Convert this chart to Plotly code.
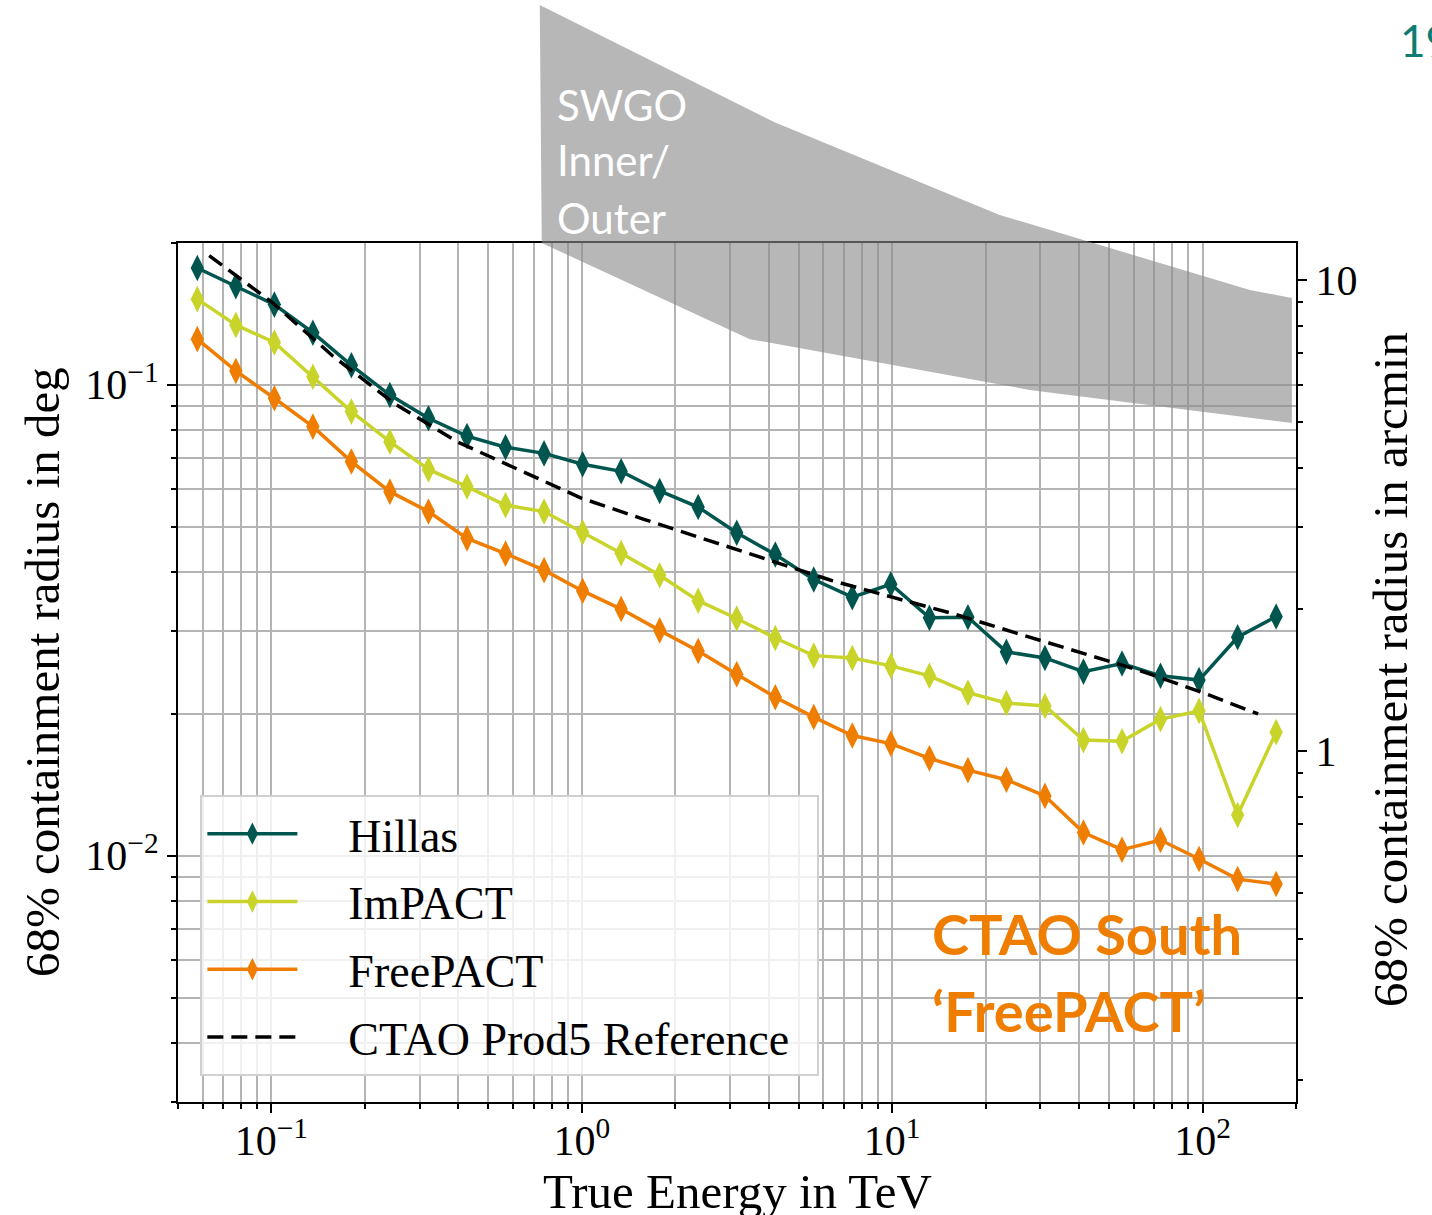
import math
import plotly.graph_objects as go

# ---------------- data ----------------
energy_tev = [0.0577, 0.0768, 0.1022, 0.1360, 0.1810, 0.2408, 0.3206, 0.4267, 0.5678,
              0.7557, 1.006, 1.339, 1.782, 2.371, 3.156, 4.201, 5.589, 7.438, 9.899,
              13.18, 17.54, 23.33, 31.06, 41.33, 55.02, 73.19, 97.43, 129.7, 172.6]

hillas_deg = [0.177, 0.162, 0.148, 0.129, 0.110, 0.0951, 0.0849, 0.0778, 0.0737, 0.0715,
              0.0678, 0.0655, 0.0595, 0.0550, 0.0485, 0.0436, 0.0386, 0.0354, 0.0377,
              0.0320, 0.0321, 0.0271, 0.0263, 0.0246, 0.0256, 0.0241, 0.0236, 0.0291, 0.0322]

impact_deg = [0.152, 0.134, 0.123, 0.104, 0.0877, 0.0757, 0.0661, 0.0608, 0.0555, 0.0538,
              0.0486, 0.0439, 0.0394, 0.0348, 0.0319, 0.0290, 0.0266, 0.0263, 0.0253,
              0.0241, 0.0222, 0.0211, 0.0208, 0.0176, 0.0175, 0.0195, 0.0203, 0.0122, 0.0183]

freepact_deg = [0.125, 0.107, 0.0936, 0.0815, 0.0687, 0.0593, 0.0538, 0.0472, 0.0438, 0.0404,
                0.0365, 0.0334, 0.0301, 0.0272, 0.0243, 0.0217, 0.0197, 0.0180, 0.0173,
                0.0161, 0.0152, 0.0145, 0.0134, 0.0112, 0.0103, 0.0108, 0.00984, 0.00892, 0.00871]

ref_energy_tev = [0.063, 0.1, 0.158, 0.251, 0.398, 0.631, 1.0, 1.585, 2.512, 3.981,
                  6.31, 10.0, 15.85, 25.12, 39.81, 63.1, 100.0, 151.0]
ref_deg = [0.188, 0.150, 0.115, 0.0909, 0.0756, 0.0659, 0.0574, 0.0518, 0.0469, 0.0426,
           0.0385, 0.0354, 0.0326, 0.0297, 0.0271, 0.0247, 0.0222, 0.0200]

# SWGO inner/outer band (upper and lower edges)
swgo_upper_energy_tev = [0.732, 4.18, 22.2, 142.0, 194.0]
swgo_upper_deg = [0.640, 0.361, 0.2294, 0.159, 0.1529]
swgo_lower_energy_tev = [0.743, 3.48, 27.7, 194.0]
swgo_lower_deg = [0.200, 0.125, 0.0975, 0.0830]

x_tick_vals = [0.1, 1, 10, 100]
x_tick_text = ["10<sup>\u22121</sup>", "10<sup>0</sup>", "10<sup>1</sup>", "10<sup>2</sup>"]
y_tick_vals = [0.01, 0.1]
y_tick_text = ["10<sup>\u22122</sup>", "10<sup>\u22121</sup>"]
y2_tick_vals = [1, 10]
y2_tick_text = ["1", "10"]

# ---------------- layout constants ----------------
W, H = 1432, 1215
ML, MR, MT, MB = 178, 136, 243, 113
X_RANGE = [math.log10(0.05), math.log10(200)]
Y_RANGE = [math.log10(0.003), math.log10(0.2)]
Y2_RANGE = [math.log10(0.003 * 60), math.log10(0.2 * 60)]

C_HILLAS = "#00554F"
C_IMPACT = "#C9D42B"
C_FREE = "#EF7D00"
GRID = "#b4b4b4"
SERIF = "Liberation Serif, Times New Roman, serif"
SANS = "Lato, Open Sans, sans-serif"
PAD = "\u00a0" * 4


def minor_vals(lo_exp, hi_exp, lo, hi):
    out = []
    for e in range(lo_exp, hi_exp + 1):
        for m in range(2, 10):
            v = m * 10 ** e
            if lo <= v * 1.0000001 and v <= hi * 1.0000001:
                out.append(v)
    return out


def to_paper(e, v):
    xp = (math.log10(e) - X_RANGE[0]) / (X_RANGE[1] - X_RANGE[0])
    yp = (math.log10(v) - Y_RANGE[0]) / (Y_RANGE[1] - Y_RANGE[0])
    return xp, yp


def px_to_paper(xpx, ypx):
    pw = W - ML - MR
    ph = H - MT - MB
    return (xpx - ML) / pw, (H - MB - ypx) / ph


fig = go.Figure()

series = [
    ("Hillas", hillas_deg, C_HILLAS),
    ("ImPACT", impact_deg, C_IMPACT),
    ("FreePACT", freepact_deg, C_FREE),
]
for name, vals, col in series:
    fig.add_trace(go.Scatter(
        x=energy_tev, y=vals, name=PAD + name, mode="lines+markers",
        line=dict(color=col, width=3.5),
        marker=dict(symbol="diamond-tall", size=19, color=col, line=dict(width=0)),
        legendgroup=name,
    ))

fig.add_trace(go.Scatter(
    x=ref_energy_tev, y=ref_deg, name=PAD + "CTAO Prod5 Reference" + "\u00a0" * 2,
    mode="lines",
    line=dict(color="black", width=3.5, dash="16px,8px"),
    legendgroup="ref",
))

# hidden trace carrying the arcmin axis
fig.add_trace(go.Scatter(
    x=energy_tev, y=[v * 60 for v in hillas_deg], yaxis="y2", mode="lines",
    line=dict(width=0, color="rgba(0,0,0,0)"), opacity=0, showlegend=False, hoverinfo="skip",
))

# SWGO band as a paper-space polygon (extends above the axes)
pts = [to_paper(e, v) for e, v in zip(swgo_upper_energy_tev, swgo_upper_deg)]
pts += [to_paper(e, v) for e, v in zip(reversed(swgo_lower_energy_tev), reversed(swgo_lower_deg))]
path = "M" + " L".join(f"{x:.5f},{y:.5f}" for x, y in pts) + " Z"
fig.add_shape(type="path", path=path, xref="paper", yref="paper",
              fillcolor="rgba(139,139,139,0.62)", line=dict(width=0), layer="above")

axis_common = dict(
    type="log", showline=True, linecolor="black", linewidth=2,
    ticks="outside", ticklen=9, tickwidth=2, tickcolor="black",
    tickfont=dict(family=SERIF, size=42, color="black"),
    zeroline=False, automargin=False,
)
title_font = dict(family=SERIF, size=49, color="black")

fig.update_layout(
    width=W, height=H,
    margin=dict(l=ML, r=MR, t=MT, b=MB, pad=0, autoexpand=False),
    paper_bgcolor="white", plot_bgcolor="white",
    showlegend=True,
    xaxis=dict(
        **axis_common, range=X_RANGE, mirror=True, ticklabelstandoff=-8,
        tickmode="array", tickvals=x_tick_vals, ticktext=x_tick_text,
        showgrid=True, gridcolor=GRID, gridwidth=1.6,
        minor=dict(tickmode="array", tickvals=minor_vals(-2, 2, 0.05, 200),
                   ticks="outside", ticklen=5, tickwidth=1.5, tickcolor="black",
                   showgrid=True, gridcolor=GRID, gridwidth=1.6),
    ),
    yaxis=dict(
        **axis_common, range=Y_RANGE,
        tickmode="array", tickvals=y_tick_vals, ticktext=y_tick_text,
        showgrid=True, gridcolor=GRID, gridwidth=1.6,
        minor=dict(tickmode="array", tickvals=minor_vals(-3, -1, 0.003, 0.2),
                   ticks="outside", ticklen=5, tickwidth=1.5, tickcolor="black",
                   showgrid=True, gridcolor=GRID, gridwidth=1.6),
    ),
    yaxis2=dict(
        **axis_common, range=Y2_RANGE, overlaying="y", side="right",
        tickmode="array", tickvals=y2_tick_vals, ticktext=y2_tick_text,
        showgrid=False,
        minor=dict(tickmode="array", tickvals=minor_vals(-1, 1, 0.18, 12),
                   ticks="outside", ticklen=5, tickwidth=1.5, tickcolor="black",
                   showgrid=False),
    ),
    legend=dict(
        x=0.02, y=0.03, xanchor="left", yanchor="bottom",
        bgcolor="rgba(255,255,255,0.8)", bordercolor="#d0d0d0", borderwidth=2,
        font=dict(family=SERIF, size=46, color="black"),
        itemwidth=90, tracegroupgap=5,
    ),
)

# axis titles as annotations (precise placement)
titles = [
    ("True Energy in TeV", 737, 1191, 0),
    ("68% containment radius in deg", 42, 672, -90),
    ("68% containment radius in arcmin", 1390, 670, -90),
]
for txt, xpx, ypx, ang in titles:
    xp, yp = px_to_paper(xpx, ypx)
    fig.add_annotation(text=txt, x=xp, y=yp, xref="paper", yref="paper",
                       xanchor="center", yanchor="middle", textangle=ang,
                       showarrow=False, font=title_font)

# text annotations
annos = [
    ("SWGO", 555, 105, SANS, 42, "white", False),
    ("Inner/", 555, 160, SANS, 42, "white", False),
    ("Outer", 555, 218, SANS, 42, "white", False),
    ("CTAO South", 930, 933, SANS, 56, C_FREE, True),
    ("\u2018FreePACT\u2019", 930, 1010, SANS, 56, C_FREE, True),
    ("19", 1398, 40, SANS, 44, "#0E7C72", False),
]
for txt, xpx, ypx, fam, size, col, bold in annos:
    xp, yp = px_to_paper(xpx, ypx)
    fig.add_annotation(
        text=f"<b>{txt}</b>" if bold else txt,
        x=xp, y=yp, xref="paper", yref="paper", xanchor="left", yanchor="middle",
        showarrow=False, font=dict(family=fam, size=size, color=col),
    )

fig.write_html("out.html")
